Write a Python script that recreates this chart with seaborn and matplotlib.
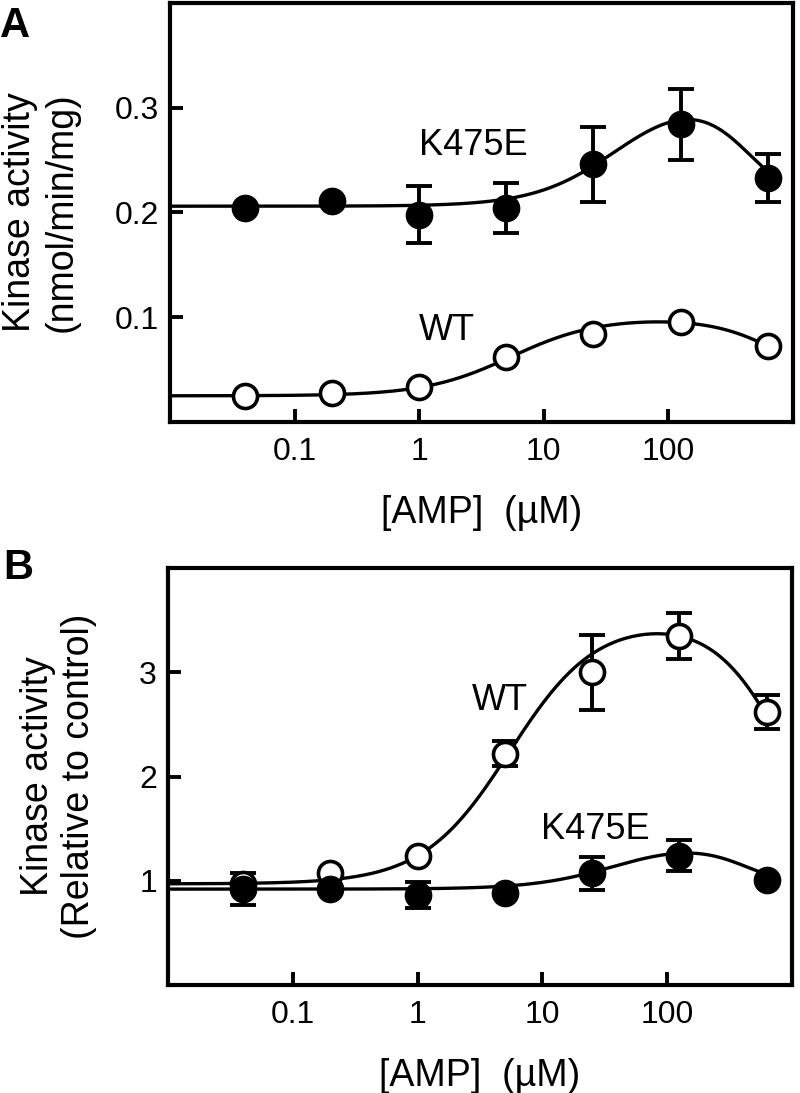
import numpy as np
import matplotlib
matplotlib.use("Agg")
import matplotlib.pyplot as plt
import seaborn as sns

# AMP concentrations (uM)
amp = [0.04, 0.2, 1, 5, 25, 125, 625]

# Panel A: kinase activity (nmol/min/mg)
a_wt = [0.025, 0.028, 0.033, 0.062, 0.084, 0.095, 0.073]
a_k475e = [0.204, 0.211, 0.198, 0.204, 0.246, 0.284, 0.233]
a_k475e_err = [0, 0, 0.027, 0.024, 0.036, 0.034, 0.023]

# Panel B: kinase activity relative to control
b_wt = [0.97, 1.07, 1.24, 2.22, 3.00, 3.35, 2.62]
b_wt_err = [0, 0, 0, 0.12, 0.36, 0.22, 0.16]
b_k475e = [0.92, 0.92, 0.86, 0.885, 1.07, 1.24, 1.01]
b_k475e_err = [0.15, 0, 0.125, 0, 0.16, 0.15, 0]

# bell-shaped fit curves: baseline, amplitude, Ka, h, Ki, h2
fit_a_wt = [0.025, 0.075, 5.5, 1.25, 900, 1.5]
fit_a_k475e = [0.206, 0.11, 40, 1.3, 420, 2.0]
fit_b_wt = [0.97, 2.55, 5.5, 1.25, 900, 1.5]
fit_b_k475e = [0.92, 0.46, 40, 1.3, 420, 2.0]

x_ticks = [0.1, 1, 10, 100]
x_ticklabels = ["0.1", "1", "10", "100"]


def bell(x, p):
    b, amp_, ka, h, ki, h2 = p
    act = x ** h / (x ** h + ka ** h)
    inh = 1 - x ** h2 / (x ** h2 + ki ** h2)
    return b + amp_ * act * inh


sns.set_theme(style="ticks")
plt.rcParams["font.family"] = ["Liberation Sans", "DejaVu Sans"]
plt.rcParams["text.color"] = "black"
plt.rcParams["axes.labelcolor"] = "black"

fig = plt.figure(figsize=(8, 10.93), dpi=100)
ax_a = fig.add_axes([0.2125, 0.6139, 0.7788, 0.3834])
ax_b = fig.add_axes([0.21, 0.0988, 0.78, 0.3815])

grid = np.logspace(-2, np.log10(625), 300)


def draw_series(ax, y, err, fit, filled):
    sns.lineplot(x=grid, y=bell(grid, fit), ax=ax, color="black", lw=2.4,
                 zorder=2)
    xs = [a for a, e in zip(amp, err) if e > 0]
    ys = [v for v, e in zip(y, err) if e > 0]
    es = [e for e in err if e > 0]
    if es:
        ax.errorbar(xs, ys, yerr=es, fmt="none", ecolor="black",
                    elinewidth=2.8, capsize=9.5, capthick=2.8, zorder=3)
    sns.scatterplot(x=amp, y=y, ax=ax, marker="o", s=300,
                    color="black" if filled else "white",
                    edgecolor="black", linewidth=2.6, zorder=4, legend=False)


draw_series(ax_a, a_k475e, a_k475e_err, fit_a_k475e, True)
draw_series(ax_a, a_wt, [0] * 7, fit_a_wt, False)
draw_series(ax_b, b_wt, b_wt_err, fit_b_wt, False)
draw_series(ax_b, b_k475e, b_k475e_err, fit_b_k475e, True)

ax_a.set_ylim(0, 0.4)
ax_a.set_yticks([0.1, 0.2, 0.3])
ax_a.set_yticklabels(["0.1", "0.2", "0.3"])
ax_a.set_ylabel("Kinase activity\n(nmol/min/mg)", fontsize=27, labelpad=25)
ax_a.text(1.0, 0.2635, "K475E", fontsize=26, va="center", ha="left")
ax_a.text(1.0, 0.0878, "WT", fontsize=26, va="center", ha="left")

ax_b.set_ylim(0, 4)
ax_b.set_yticks([1, 2, 3])
ax_b.set_yticklabels(["1", "2", "3"])
ax_b.set_ylabel("Kinase activity\n(Relative to control)", fontsize=27,
                labelpad=30)
ax_b.text(2.7, 2.73, "WT", fontsize=26, va="center", ha="left")
ax_b.text(9.8, 1.487, "K475E", fontsize=26, va="center", ha="left")

for ax in (ax_a, ax_b):
    ax.set_xscale("log")
    ax.set_xlim(0.01, 1000)
    ax.set_xticks(x_ticks)
    ax.set_xticklabels(x_ticklabels)
    ax.minorticks_off()
    ax.set_xlabel("[AMP]  (\u00b5M)", fontsize=27, labelpad=20)
    ax.tick_params(direction="in", length=9.5, width=2.8, labelsize=23,
                   color="black", labelcolor="black")
    ax.tick_params(axis="x", pad=11)
    ax.tick_params(axis="y", pad=8)
    for sp in ax.spines.values():
        sp.set_visible(True)
        sp.set_linewidth(3.0)
        sp.set_color("black")

fig.text(0.0, 1 - 6 / 1093, "A", fontsize=30, fontweight="bold", va="top")
fig.text(0.004, 1 - 548 / 1093, "B", fontsize=30, fontweight="bold", va="top")

fig.savefig("out.png", dpi=100)
